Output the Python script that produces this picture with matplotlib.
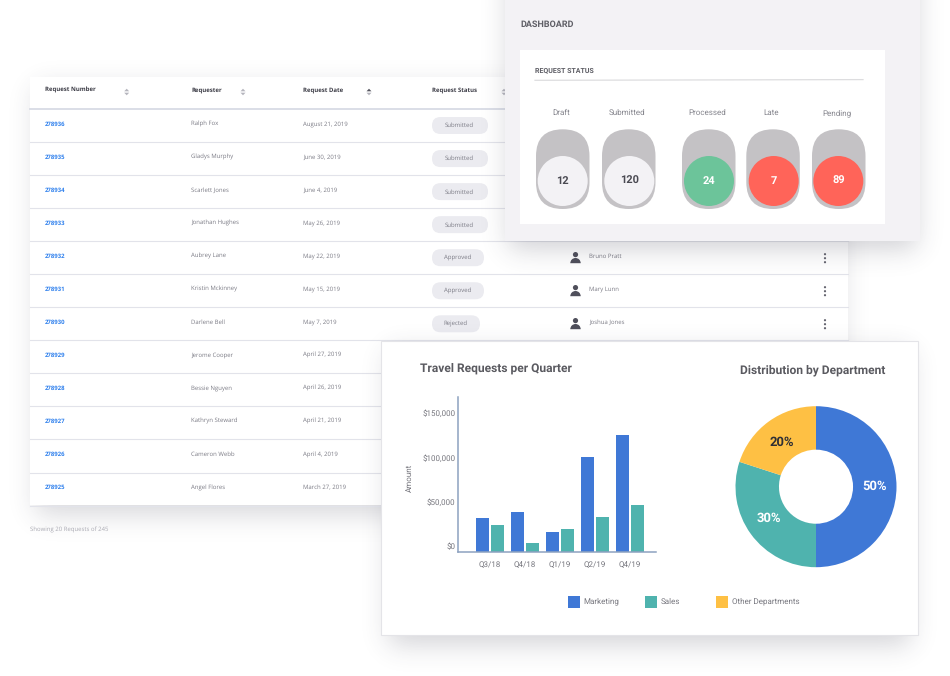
"""Travel request dashboard mockup: table, status panel, bar and donut charts."""

import math

import matplotlib

matplotlib.use("Agg")
import matplotlib.pyplot as plt
import numpy as np
from matplotlib.patches import Circle, FancyBboxPatch, Polygon, Rectangle, Wedge
from matplotlib.transforms import ScaledTranslation

plt.rcParams["text.hinting"] = "no_hinting"
plt.rcParams["text.hinting_factor"] = 1

W, H = 950, 676

# table data
request_numbers = ["278936", "278935", "278934", "278933", "278932", "278931",
                   "278930", "278929", "278928", "278927", "278926", "278925"]
requesters = ["Ralph Fox", "Gladys Murphy", "Scarlett Jones", "Jonathan Hughes",
              "Aubrey Lane", "Kristin Mckinney", "Darlene Bell", "Jerome Cooper",
              "Bessie Nguyen", "Kathryn Steward", "Cameron Webb", "Angel Flores"]
request_dates = ["August 21, 2019", "June 30, 2019", "June 4, 2019", "May 26, 2019",
                 "May 22, 2019", "May 15, 2019", "May 7, 2019", "April 27, 2019",
                 "April 26, 2019", "April 21, 2019", "April 4, 2019", "March 27, 2019"]
statuses = ["Submitted", "Submitted", "Submitted", "Submitted", "Approved", "Approved", "Rejected"]
approvers = ["Bruno Pratt", "Mary Lunn", "Joshua Jones"]
header_labels = ["Request Number", "Requester", "Request Date", "Request Status"]

# status panel data
status_names = ["Draft", "Submitted", "Processed", "Late", "Pending"]
status_counts = [12, 120, 24, 7, 89]

# bar chart data
quarters = ["Q3/18", "Q4/18", "Q1/19", "Q2/19", "Q4/19"]
marketing = [38000, 45000, 23000, 107500, 132000]
sales = [30500, 10500, 25500, 40000, 52500]
amount_ticks = [0, 50000, 100000, 150000]

# donut data
departments = ["Marketing", "Sales", "Other Departments"]
dept_share = [50, 30, 20]

BLUE = "#3f78d6"
TEAL = "#4fb3ae"
YELLOW = "#fec044"
GREY_TEXT = "#7b7b85"
DARK_TEXT = "#3c3c46"
LINK = "#2f80ed"
ROW_LINE = "#e2e3ea"
PANEL = "#f3f2f5"
PILL = "#ebebf0"
SANS = "Open Sans"
ROBOTO = "Roboto"

fig = plt.figure(figsize=(W / 100, H / 100), dpi=100, facecolor="white")
bg = fig.add_axes([0, 0, 1, 1], zorder=0)
bg.axis("off")

erf = np.vectorize(math.erf)


def px_axes(x0, y0, x1, y1, zorder=2):
    """Axes placed by pixel box, y measured from the top."""
    return fig.add_axes([x0 / W, 1 - y1 / H, (x1 - x0) / W, (y1 - y0) / H], zorder=zorder)


def shadow(x0, y0, x1, y1, z, drop=10, inset=8, sigma=13, strength=0.22):
    """Gaussian-blurred rectangle drawn as an RGBA image."""
    xs, ys = np.arange(W) + 0.5, np.arange(H) + 0.5
    k = sigma * math.sqrt(2)
    fx = 0.5 * (erf((xs - x0 - inset) / k) - erf((xs - x1 + inset) / k))
    fy = 0.5 * (erf((ys - y0 - drop) / k) - erf((ys - y1 - drop) / k))
    rgba = np.zeros((H, W, 4))
    rgba[..., :3] = (0.24, 0.24, 0.31)
    rgba[..., 3] = strength * np.outer(fy, fx)
    bg.imshow(rgba, extent=(0, W, H, 0), aspect="auto", zorder=z, interpolation="bilinear")


def pill(x0, y0, x1, y1, color, z):
    r = min(x1 - x0, y1 - y0) / 2
    bg.add_patch(FancyBboxPatch((x0, y0), x1 - x0, y1 - y0, boxstyle=f"round,pad=0,rounding_size={r}",
                                fc=color, ec="none", zorder=z))


def label(x, y, s, size=4.2, color=GREY_TEXT, ha="left", weight="normal", family=SANS, z=2):
    bg.text(x, y, s, fontsize=size, color=color, ha=ha, va="center", fontweight=weight,
            family=family, zorder=z)


def sort_arrows(x, y, active, z):
    up = "#55555f" if active else "#b5b5bd"
    bg.add_patch(Polygon([(x - 2.5, y - 0.7), (x + 2.5, y - 0.7), (x, y - 3.3)], fc=up, ec="none", zorder=z))
    bg.add_patch(Polygon([(x - 2.5, y + 0.7), (x + 2.5, y + 0.7), (x, y + 3.3)], fc="#b5b5bd", ec="none", zorder=z))


# request table
shadow(30, 77, 848, 505, 1, drop=10, inset=6, sigma=13, strength=0.2)
bg.add_patch(Rectangle((30, 77), 818, 428, fc="white", ec="none", zorder=1.1))
header_x = [45, 191, 303, 432]
for x, s in zip(header_x, header_labels):
    label(x, 90.3, s, size=4.05, color=DARK_TEXT, weight="bold", z=1.3)
for x, active in zip([126.7, 243, 369, 504], [False, False, True, False]):
    sort_arrows(x, 92, active, 1.3)
bg.plot([30, 848], [108.5, 108.5], color="#d8dbe5", lw=1.3, zorder=1.2)

for i, (num, who, when) in enumerate(zip(request_numbers, requesters, request_dates)):
    y = 124 + 33.05 * i
    label(45, y, num, size=4.4, color=LINK, weight="bold", z=1.3)
    label(191, y, who, z=1.3)
    label(303, y, when, z=1.3)
    bg.plot([30, 848], [y + 18, y + 18], color=ROW_LINE, lw=0.8, zorder=1.2)

pill_right = {"Submitted": 488, "Approved": 484, "Rejected": 480}
for i, s in enumerate(statuses):
    y = 125.5 + 33.05 * i
    pill(432, y - 8.5, pill_right[s], y + 8.5, PILL, 1.25)
    label((432 + pill_right[s]) / 2 - 0.5, y + 0.3, s, size=4.4, ha="center", z=1.3)

for i, name in enumerate(approvers):
    y = 258.2 + 33 * i
    label(589, y - 1.8, name, z=1.3)
    bg.add_patch(Circle((575.5, y - 3.6), 2.6, fc="#4f4f5b", ec="none", zorder=1.3))
    bg.add_patch(Wedge((575.5, y + 5), 5.2, 180, 360, fc="#4f4f5b", ec="none", zorder=1.3))
    for dy in (-4, 0, 4):
        bg.add_patch(Circle((825, y + dy), 1.1, fc="#62626d", ec="none", zorder=1.3))

label(30, 529.5, "Showing 20 Requests of 245", size=4.1, color="#a9a9b2", z=1.3)

# status panel
shadow(505, -40, 920, 241, 3, drop=8, inset=4, sigma=13, strength=0.24)
bg.add_patch(Rectangle((505, 0), 415, 241, fc=PANEL, ec="none", zorder=3.1))
bg.add_patch(Rectangle((520, 50), 365, 174, fc="white", ec="none", zorder=3.2))
label(520, 24, "DASHBOARD", size=6.3, color="#5f5f66", weight="bold", family=ROBOTO, z=3.5)
label(535, 70.5, "REQUEST STATUS", size=5.35, color="#5f5f66", weight="bold", family=ROBOTO, z=3.5)
bg.plot([535, 863], [80.3, 79.6], color="#dddddf", lw=0.9, zorder=3.3)

toggle_left = [536, 602, 682, 746.3, 812]
knob_x = [562.7, 629.3, 709, 773.7, 838.3]
name_x = [561.5, 627, 707, 770.7, 836.5]
knob_colors = [PANEL, PANEL, "#6cc49a", "#ff6459", "#ff6459"]
count_colors = ["#4a4a52", "#4a4a52", "white", "white", "white"]
for x0, kx, nx, name, n, kc, cc in zip(toggle_left, knob_x, name_x, status_names, status_counts,
                                       knob_colors, count_colors):
    label(nx, 113, name, size=5.6, ha="center", color="#85858d", family=ROBOTO, z=3.5)
    pill(x0, 129.3, x0 + 53.5, 209, "#c4c2c5", 3.3)
    bg.add_patch(Circle((kx, 181), 25, fc=kc, ec="none", zorder=3.4))
    label(kx, 181, str(n), size=8.2, ha="center", color=cc, weight="bold", family=ROBOTO, z=3.5)

# chart card
shadow(381, 341, 918, 635, 5, drop=10, inset=8, sigma=13, strength=0.22)
bg.add_patch(Rectangle((381, 341), 537, 294, fc="white", ec="#e4e4e8", lw=0.8, zorder=5.1))
label(420, 368, "Travel Requests per Quarter", size=8.6, color="#5a5a60", weight="bold", family=ROBOTO, z=5.5)
label(740, 370, "Distribution by Department", size=8.7, color="#5a5a60", weight="bold", family=ROBOTO, z=5.5)

for x, s, c in zip([568, 645, 716], departments, [BLUE, TEAL, YELLOW]):
    bg.add_patch(Rectangle((x, 596), 11.5, 11.5, fc=c, ec="none", zorder=5.5))
    label(x + 15.5, 601.5, s, size=5.8, color="#77777f", family=ROBOTO, z=5.5)

bg.set_xlim(0, W)
bg.set_ylim(H, 0)

# bars
ax = px_axes(458, 397, 656, 552)
ax.patch.set_alpha(0)
pos = np.arange(len(quarters))
ax.bar(pos - 0.217, marketing, 0.379, color=BLUE)
ax.bar(pos + 0.217, sales, 0.379, color=TEAL)
ax.set_xlim(-0.906, 4.735)
ax.set_ylim(0, 155 / 44.3 * 50000)
ax.set_xticks(pos, quarters)
ax.set_yticks(amount_ticks, [f"${v:,}" for v in amount_ticks])
ax.tick_params(length=0, labelsize=5.8, labelcolor="#77777f", labelfontfamily=ROBOTO)
ax.tick_params(axis="x", pad=6.5)
ax.tick_params(axis="y", pad=2)
# reference draws its amount labels 6 px above the gridline position
lift = ScaledTranslation(0, 6 / 100, fig.dpi_scale_trans)
for t in ax.get_yticklabels():
    t.set_transform(t.get_transform() + lift)
ax.set_ylabel("Amount", fontsize=5.8, color="#77777f", family=ROBOTO)
ax.yaxis.set_label_coords(-0.227, 0.477)
for side in ("top", "right"):
    ax.spines[side].set_visible(False)
for side in ("left", "bottom"):
    ax.spines[side].set_color("#8da2c0")
    ax.spines[side].set_linewidth(1.1)

# donut
dax = px_axes(735.5, 406.2, 896.5, 567.2)
dax.set_aspect("equal")
_, _, pct = dax.pie(dept_share, colors=[BLUE, TEAL, YELLOW], startangle=90, counterclock=False,
                    radius=1, wedgeprops={"width": 0.54}, autopct="%d%%", pctdistance=0.73)
for t, c in zip(pct, ["white", "white", "#2f2f35"]):
    t.set(fontsize=9, fontweight="bold", family=ROBOTO, color=c)
pct[1].set_y(pct[1].get_position()[1] + 0.04)
pct[2].set_y(pct[2].get_position()[1] - 0.04)
dax.set_xlim(-1, 1)
dax.set_ylim(-1, 1)

fig.savefig("out.png", dpi=100, facecolor="white")
